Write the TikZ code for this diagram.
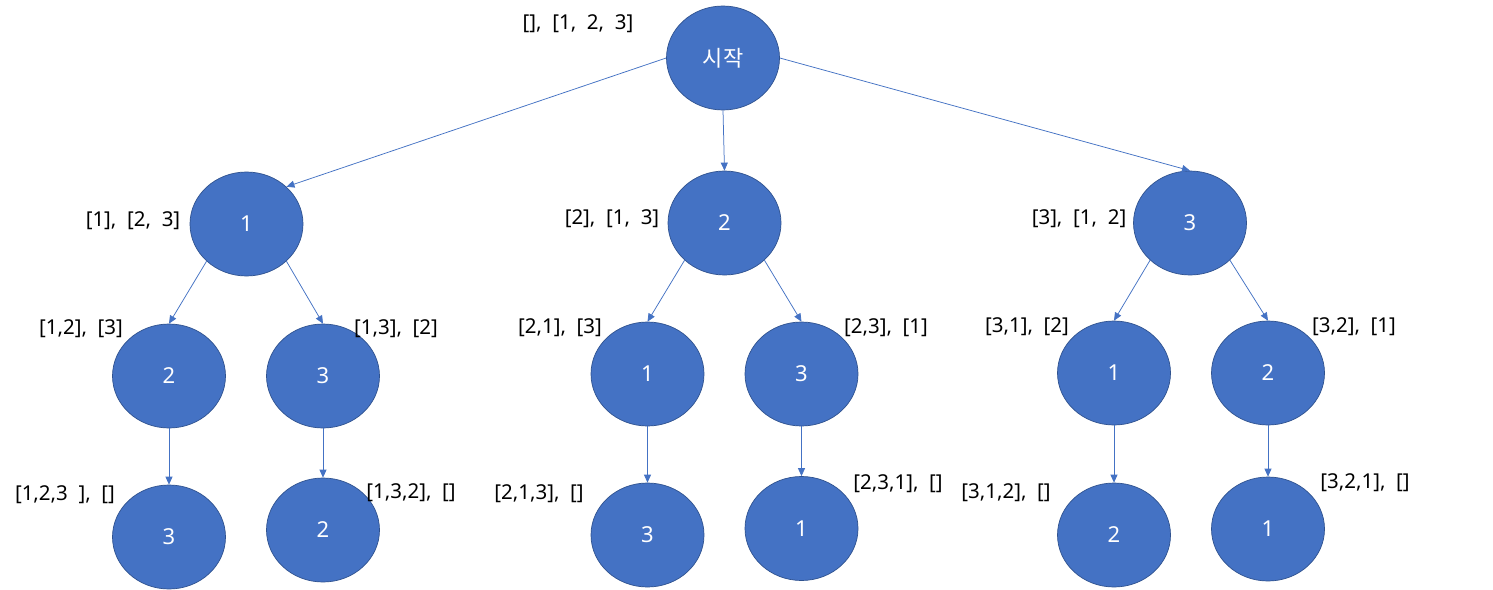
\documentclass[tikz,border=0pt]{standalone}
\usepackage{fontspec}
\setmainfont{Noto Sans}
\newfontfamily\krfont{Noto Sans CJK KR}
\usetikzlibrary{shapes.geometric,arrows.meta}
\definecolor{nodefill}{HTML}{4472C4}
\definecolor{nodeedge}{HTML}{2F528F}
\definecolor{edgecol}{HTML}{4472C4}
\begin{document}
\begin{tikzpicture}[x=1pt,y=-1pt,
  circ/.style={ellipse, draw=nodeedge, line width=0.7pt, fill=nodefill,
    minimum width=113pt, minimum height=104pt, inner sep=0pt, text=white,
    font=\fontsize{22}{26}\selectfont},
  lbl/.style={font=\fontsize{20.5}{24}\selectfont, inner sep=0pt, text=black},
  conn/.style={draw=edgecol, line width=0.75pt, -{Triangle[length=8pt,width=7pt]}}]
\useasboundingbox[fill=white] (0,0) rectangle (1493,589);
% nodes
\node[circ] (root) at (723,58) {\krfont 시작};
\node[circ] (a) at (246.5,224) {1};
\node[circ] (b) at (724.5,223) {2};
\node[circ] (c) at (1190,223) {3};
\node[circ] (aa) at (169,376) {2};
\node[circ] (ab) at (323,376) {3};
\node[circ] (aaa) at (169,537) {3};
\node[circ] (aba) at (323,530) {2};
\node[circ] (ba) at (647.5,374) {1};
\node[circ] (bb) at (801.5,374) {3};
\node[circ] (baa) at (647.5,535) {3};
\node[circ] (bba) at (801.5,528.5) {1};
\node[circ] (ca) at (1114,373) {1};
\node[circ] (cb) at (1268,373) {2};
\node[circ] (caa) at (1114,535) {2};
\node[circ] (cba) at (1268,529) {1};
% labels
\node[lbl] (lroot) at (578,24) {[],\ \ [1,\ \ 2,\ \ 3]};
\node[lbl] (la) at (133,221) {[1],\ \ [2,\ \ 3]};
\node[lbl] (lb) at (612,219) {[2],\ \ [1,\ \ 3]};
\node[lbl] (lc) at (1079,219) {[3],\ \ [1,\ \ 2]};
\node[lbl] (laa) at (81,329) {[1,2],\ \ [3]};
\node[lbl] (lab) at (396,329) {[1,3],\ \ [2]};
\node[lbl] (laaa) at (65,495) {[1,2,3\ \ ],\ \ []};
\node[lbl] (laba) at (411,493) {[1,3,2],\ \ []};
\node[lbl] (lba) at (560,328) {[2,1],\ \ [3]};
\node[lbl] (lbb) at (886,328) {[2,3],\ \ [1]};
\node[lbl] (lbaa) at (539,494) {[2,1,3],\ \ []};
\node[lbl] (lbba) at (898,484) {[2,3,1],\ \ []};
\node[lbl] (lca) at (1027,327) {[3,1],\ \ [2]};
\node[lbl] (lcb) at (1354,327) {[3,2],\ \ [1]};
\node[lbl] (lcaa) at (1006,493) {[3,1,2],\ \ []};
\node[lbl] (lcba) at (1365,483) {[3,2,1],\ \ []};
% connectors
\draw[conn] (root.180) -- (a.43);
\draw[conn] (root.270) -- (b.90);
\draw[conn] (root.0) -- (c.90);
\draw[conn] (a.223) -- (aa.90);
\draw[conn] (a.317) -- (ab.90);
\draw[conn] (aa.270) -- (aaa.90);
\draw[conn] (ab.270) -- (aba.90);
\draw[conn] (b.223) -- (ba.90);
\draw[conn] (b.317) -- (bb.90);
\draw[conn] (ba.270) -- (baa.90);
\draw[conn] (bb.270) -- (bba.90);
\draw[conn] (c.223) -- (ca.90);
\draw[conn] (c.317) -- (cb.90);
\draw[conn] (ca.270) -- (caa.90);
\draw[conn] (cb.270) -- (cba.90);
\end{tikzpicture}
\end{document}
